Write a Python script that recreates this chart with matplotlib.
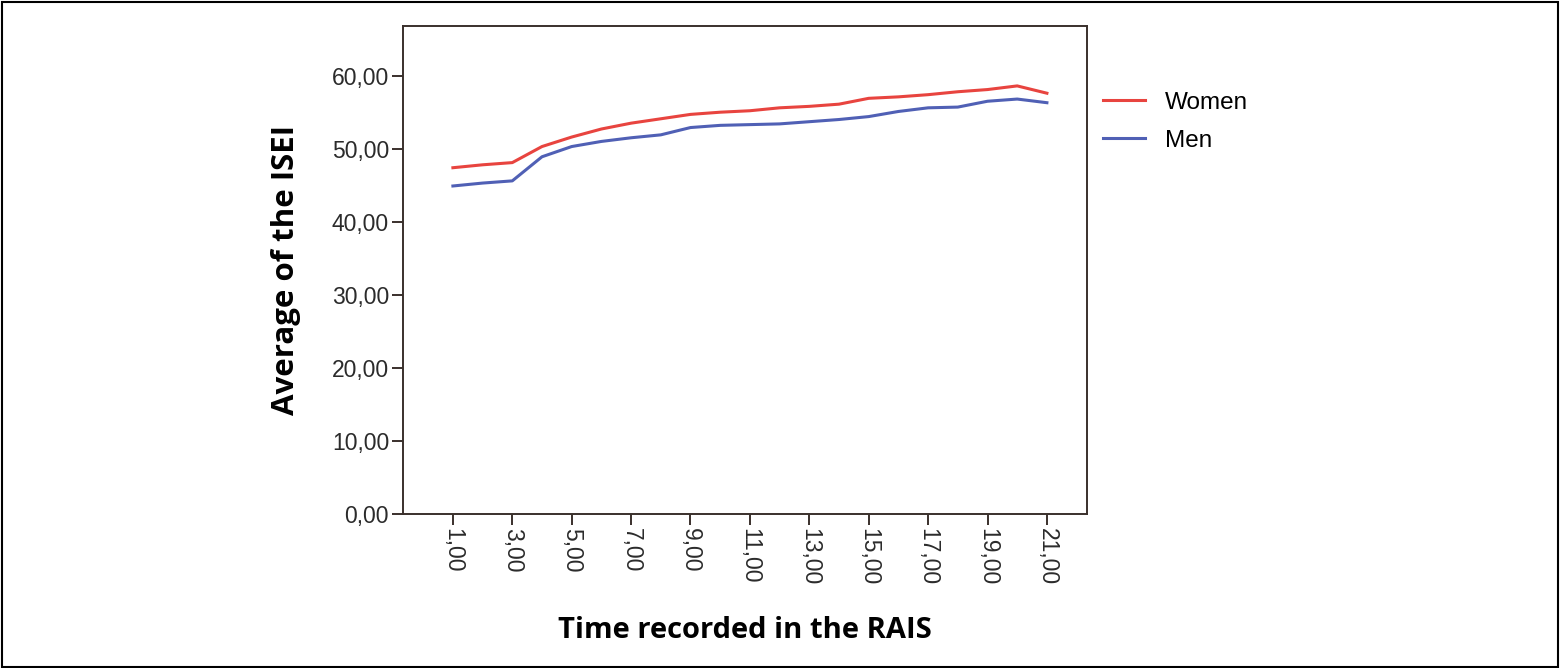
import matplotlib
matplotlib.use("Agg")
import matplotlib.pyplot as plt
from matplotlib.patches import Rectangle

time_points = list(range(1, 22))
women = [47.4, 47.8, 48.1, 50.3, 51.6, 52.7, 53.5, 54.1, 54.7, 55.0, 55.2,
         55.6, 55.8, 56.1, 56.9, 57.1, 57.4, 57.8, 58.1, 58.6, 57.6]
men = [44.9, 45.3, 45.6, 48.9, 50.3, 51.0, 51.5, 51.9, 52.9, 53.2, 53.3,
       53.4, 53.7, 54.0, 54.4, 55.1, 55.6, 55.7, 56.5, 56.8, 56.3]
x_ticks = list(range(1, 22, 2))
y_ticks = [0, 10, 20, 30, 40, 50, 60]
series_labels = ["Women", "Men"]

fig = plt.figure(figsize=(15.61, 6.68), dpi=100)
ax = fig.add_axes([403/1561, 1-514/668, (1087-403)/1561, (514-26)/668])

ax.plot(time_points, women, color="#e8443f", lw=2.2, label=series_labels[0])
ax.plot(time_points, men, color="#5060b5", lw=2.2, label=series_labels[1])

ax.set_xlim(-0.68, 22.35)
ax.set_ylim(0, 66.8)
ax.set_xticks(x_ticks)
ax.set_xticklabels([f"{v:.2f}".replace(".", ",") for v in x_ticks],
                   rotation=-90, fontsize=16.5, family="Liberation Sans", color="#2b2b2b")
ax.set_yticks(y_ticks)
ax.set_yticklabels([f"{v:.2f}".replace(".", ",") for v in y_ticks],
                   fontsize=16.5, family="Liberation Sans", color="#2b2b2b")
ax.tick_params(axis="both", direction="out", length=8, width=1.4, color="#3a302c", pad=2)
for s in ax.spines.values():
    s.set_color("#3a302c")
    s.set_linewidth(1.4)

ax.set_ylabel("Average of the ISEI", fontsize=22.5, fontweight="bold", family="Open Sans", labelpad=22)
ax.set_xlabel("Time recorded in the RAIS", fontsize=21, fontweight="bold", family="Open Sans", labelpad=22)

leg = ax.legend(loc="upper left", bbox_to_anchor=(1.023, 0.865), frameon=False,
                prop={"family": "Liberation Sans", "size": 17.5}, handlelength=1.75,
                handletextpad=0.8, labelspacing=0.65, borderaxespad=0, borderpad=0)

fig.patches.append(Rectangle((0.001, 0.002), 0.997, 0.995, transform=fig.transFigure,
                             fill=False, edgecolor="black", lw=1.5))

fig.savefig("out.png", dpi=100)
